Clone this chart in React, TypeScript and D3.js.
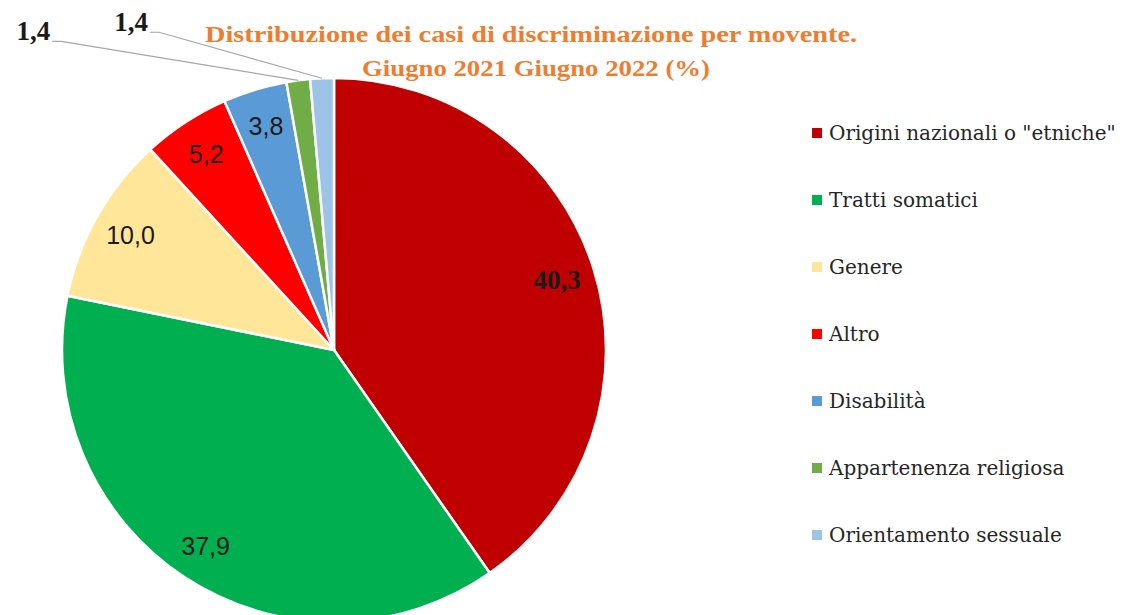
import React from "react";
import * as d3 from "d3";

const categories = [
  'Origini nazionali o "etniche"',
  "Tratti somatici",
  "Genere",
  "Altro",
  "Disabilità",
  "Appartenenza religiosa",
  "Orientamento sessuale",
];
const values = [40.3, 37.9, 10.0, 5.2, 3.8, 1.4, 1.4];
const colors = ["#C00000", "#00B050", "#FFE699", "#FF0000", "#5B9BD5", "#70AD47", "#9DC3E6"];
const titleLines = ["Distribuzione dei casi di discriminazione per movente.", "Giugno 2021 Giugno 2022 (%)"];

const W = 1123;
const H = 615;
const cx = 334;
const cy = 350;
const R = 272;

const SERIF = "'Liberation Serif', 'DejaVu Serif', serif";
const LEGEND_FONT = "'DejaVu Serif', 'Liberation Serif', serif";
const SANS = "'Liberation Sans', Arial, sans-serif";

// offsets of outside labels (label anchor relative to slice edge point)
const outsideOffsets: Record<number, [number, number]> = {
  5: [-248, -39],
  6: [-174, -46],
};

const fmt = (v: number) => d3.format(".1f")(v).replace(".", ",");

export default function App() {
  const pie = d3.pie<number>().sort(null).value((d) => d)(values);
  const arc = d3.arc<d3.PieArcDatum<number>>().innerRadius(0).outerRadius(R);
  const labelArc = d3.arc<d3.PieArcDatum<number>>().innerRadius(R * 0.86).outerRadius(R * 0.86);
  const edgeArc = d3.arc<d3.PieArcDatum<number>>().innerRadius(R).outerRadius(R);

  const legendY = d3.scalePoint<number>().domain(d3.range(categories.length)).range([133, 535]);

  return (
    <svg width={W} height={H} style={{ position: "absolute", left: 0, top: 0, background: "#fff" }}>
      <g transform={`translate(${cx},${cy})`}>
        {pie.map((p, i) => (
          <path key={i} d={arc(p) || ""} fill={colors[i]} stroke="#fff" strokeWidth={2.5} strokeLinejoin="round" />
        ))}
        {pie.map((p, i) => {
          if (values[i] >= 2) {
            const [x, y] = labelArc.centroid(p);
            const serif = i === 0;
            return (
              <text
                key={"l" + i}
                x={x}
                y={y}
                dy={serif ? "0.34em" : "0.36em"}
                textAnchor="middle"
                fontFamily={serif ? SERIF : SANS}
                fontWeight={serif ? "bold" : "normal"}
                fontSize={serif ? 27 : 25}
                fill="#1a1a1a"
              >
                {fmt(values[i])}
              </text>
            );
          }
          const [ex, ey] = edgeArc.centroid(p);
          const off = outsideOffsets[i] || [-200, -40];
          const lx = ex + off[0];
          const ly = ey + off[1];
          return (
            <g key={"o" + i}>
              <polyline
                points={`${lx + 2},${ly} ${lx + 11},${ly} ${ex},${ey}`}
                fill="none"
                stroke="#a6a6a6"
                strokeWidth={1.2}
              />
              <text
                x={lx}
                y={ly - 1}
                textAnchor="end"
                fontFamily={SERIF}
                fontWeight="bold"
                fontSize={27}
                fill="#1a1a1a"
              >
                {fmt(values[i])}
              </text>
            </g>
          );
        })}
      </g>

      <text
        x={531}
        y={42}
        textAnchor="middle"
        fontFamily={SERIF}
        fontWeight="bold"
        fontSize={24}
        fill="#ED7D31"
        textLength={652}
        lengthAdjust="spacingAndGlyphs"
      >
        {titleLines[0]}
      </text>
      <text
        x={536}
        y={76}
        textAnchor="middle"
        fontFamily={SERIF}
        fontWeight="bold"
        fontSize={24}
        fill="#ED7D31"
        textLength={348}
        lengthAdjust="spacingAndGlyphs"
      >
        {titleLines[1]}
      </text>

      {categories.map((c, i) => (
        <g key={"lg" + i} transform={`translate(812,${legendY(i)})`}>
          <rect x={0} y={-5} width={10} height={10} fill={colors[i]} />
          <text x={17} y={0} dy="0.36em" fontFamily={LEGEND_FONT} fontSize={20} fill="#262626">
            {c}
          </text>
        </g>
      ))}
    </svg>
  );
}
